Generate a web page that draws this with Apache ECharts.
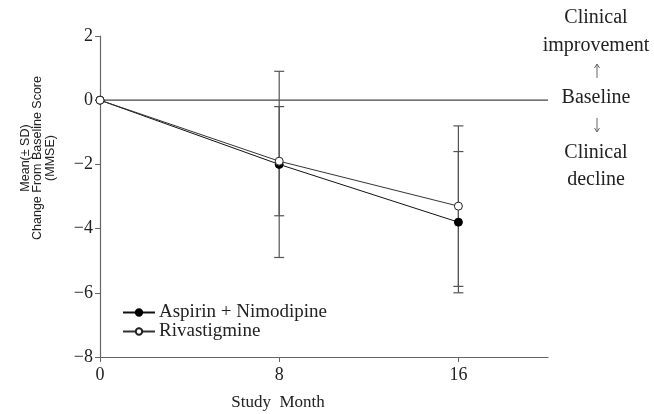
<!DOCTYPE html>
<html><head><meta charset="utf-8">
<script src="https://cdn.jsdelivr.net/npm/echarts@6/dist/echarts.min.js"></script>
<style>html,body{margin:0;padding:0;background:#fff}#c{width:654px;height:414px}</style>
</head><body><div id="c"></div>
<script>
const months = [0, 8, 16];
const aspirinMean = [0, -2.0, -3.8];
const aspirinSD = [0, 2.9, 2.2];
const rivaMean = [0, -1.9, -3.3];
const rivaSD = [0, 1.7, 2.5];
const baselineValue = 0;
const yTicks = [-8, -6, -4, -2, 0, 2];
const xTicks = [0, 8, 16];

const serif = '"Liberation Serif","DejaVu Serif",serif';
const axisColor = '#666';

function errData(mean, sd) {
  return months.map((m, i) => [m, mean[i] - sd[i], mean[i] + sd[i]]).filter((d, i) => sd[i] > 0);
}
function errSeries(data) {
  return {
    type: 'custom', silent: true, z: 1,
    renderItem: function (params, api) {
      const x = api.value(0);
      const lo = api.coord([x, api.value(1)]);
      const hi = api.coord([x, api.value(2)]);
      const w = 5;
      const st = { stroke: '#555', lineWidth: 1.2 };
      return { type: 'group', children: [
        { type: 'line', shape: { x1: lo[0], y1: lo[1], x2: hi[0], y2: hi[1] }, style: st },
        { type: 'line', shape: { x1: lo[0] - w, y1: lo[1], x2: lo[0] + w, y2: lo[1] }, style: st },
        { type: 'line', shape: { x1: hi[0] - w, y1: hi[1], x2: hi[0] + w, y2: hi[1] }, style: st }
      ]};
    },
    data: data
  };
}

const chart = echarts.init(document.getElementById('c'));
const txt = (t, x, y, size, fill, fam) => ({ type: 'text', x: x, y: y,
  style: { text: t, font: size + 'px ' + (fam || serif), fill: fill || '#222', align: 'center', verticalAlign: 'middle' } });
const arrow = (x, y1, y2) => {
  const dir = y2 < y1 ? 1 : -1;
  const st = { stroke: '#666', lineWidth: 1, fill: null };
  return { type: 'group', children: [
    { type: 'line', shape: { x1: x, y1: y1, x2: x, y2: y2 }, style: st },
    { type: 'polyline', shape: { points: [[x - 2.5, y2 + dir * 4], [x, y2], [x + 2.5, y2 + dir * 4]] }, style: st }
  ]};
};
chart.setOption({
  animation: false,
  grid: { left: 100, right: 106, top: 36, bottom: 57 },
  xAxis: {
    type: 'value', min: 0, max: 20, interval: 8,
    axisLine: { onZero: false, lineStyle: { color: axisColor, width: 1.2 } },
    axisTick: { show: true, length: 5, lineStyle: { color: axisColor }, customValues: xTicks },
    axisLabel: { customValues: xTicks, color: '#222', fontFamily: serif, fontSize: 18, margin: 9 },
    splitLine: { show: false }
  },
  yAxis: {
    type: 'value', min: -8, max: 2, interval: 2,
    axisLine: { show: true, onZero: false, lineStyle: { color: axisColor, width: 1.2 } },
    axisTick: { show: true, length: 5, lineStyle: { color: axisColor } },
    axisLabel: { color: '#222', fontFamily: serif, fontSize: 18, margin: 7,
      formatter: v => String(v).replace('-', '\u2212') },
    splitLine: { show: false }
  },
  legend: {
    orient: 'vertical', left: 117, top: 298, itemGap: 0, itemWidth: 32, itemHeight: 8,
    textStyle: { fontFamily: serif, fontSize: 19, color: '#222', lineHeight: 19, padding: [0, 0, 0, -1] },
    data: ['Aspirin + Nimodipine', 'Rivastigmine']
  },
  series: [
    {
      name: 'baseline', type: 'line', silent: true, z: 0, symbol: 'none',
      data: [[0, baselineValue], [20, baselineValue]],
      lineStyle: { color: '#444', width: 1.2 }
    },
    errSeries(errData(aspirinMean, aspirinSD)),
    errSeries(errData(rivaMean, rivaSD)),
    {
      name: 'Aspirin + Nimodipine', type: 'line', z: 3,
      data: months.map((m, i) => [m, aspirinMean[i]]),
      symbol: 'circle', symbolSize: 8,
      lineStyle: { color: '#111', width: 1 },
      itemStyle: { color: '#000', borderColor: '#000', borderWidth: 1 }
    },
    {
      name: 'Rivastigmine', type: 'line', z: 4,
      data: months.map((m, i) => [m, rivaMean[i]]),
      symbol: 'circle', symbolSize: 8,
      lineStyle: { color: '#333', width: 1 },
      itemStyle: { color: '#fff', borderColor: '#222', borderWidth: 1 }
    }
  ],
  graphic: [
    txt('Study  Month', 278, 403, 17),
    { type: 'group', x: 38, y: 158, rotation: Math.PI / 2, children: [
      { type: 'text', style: { text: 'Mean(\u00B1 SD)\nChange From Baseline Score\n(MMSE)', font: '12.5px "Liberation Sans", Arial, sans-serif',
        fill: '#222', align: 'center', verticalAlign: 'middle', lineHeight: 12.5 } }
    ]},
    txt('Clinical', 596, 18, 20),
    txt('improvement', 596, 46, 20),
    arrow(597, 78, 64),
    txt('Baseline', 596, 98, 20),
    arrow(597, 118, 132),
    txt('Clinical', 596, 153, 20),
    txt('decline', 596, 180, 20)
  ]
});
</script></body></html>
